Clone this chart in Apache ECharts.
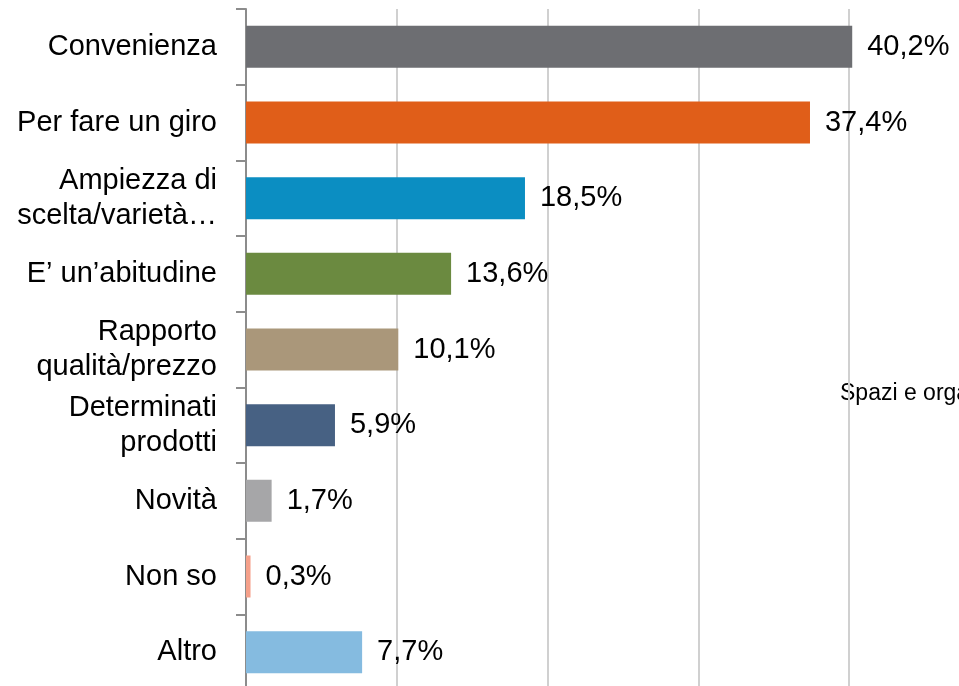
<!DOCTYPE html>
<html>
<head>
<meta charset="utf-8">
<script src="https://cdn.jsdelivr.net/npm/echarts@6/dist/echarts.min.js"></script>
<style>
  html, body { margin: 0; padding: 0; background: #fff; }
  #chart { width: 959px; height: 686px; }
</style>
</head>
<body>
<div id="chart"></div>
<script>
// categories (top to bottom) and their values in %
var categories = [
    'Convenienza',
    'Per fare un giro',
    'Ampiezza di\nscelta/varietà…',
    'E’ un’abitudine',
    'Rapporto\nqualità/prezzo',
    'Determinati\nprodotti',
    'Novità',
    'Non so',
    'Altro'
];
var values = [40.2, 37.4, 18.5, 13.6, 10.1, 5.9, 1.7, 0.3, 7.7];
var colors = ['#6d6e72', '#e05e19', '#0b8ec2', '#6b8a40', '#aa977a', '#476183', '#a6a6a8', '#f5a08a', '#85bbe0'];
var xTicks = [0, 10, 20, 30, 40, 50];

var font = '"Liberation Sans", Arial, sans-serif';

var myChart = echarts.init(document.getElementById('chart'));
var option = {
    animation: false,
    grid: {
        left: 246,
        top: 9,
        right: -41,
        bottom: -4,
        containLabel: false,
        outerBoundsMode: 'none'
    },
    xAxis: {
        type: 'value',
        min: xTicks[0],
        max: xTicks[xTicks.length - 1],
        interval: 10,
        axisLine: { show: false },
        axisTick: { show: false },
        axisLabel: { show: false },
        splitLine: { lineStyle: { color: '#d0d0d0', width: 2 } }
    },
    yAxis: {
        type: 'category',
        inverse: true,
        data: categories,
        axisLine: { show: true, lineStyle: { color: '#8c8c8c', width: 2 } },
        axisTick: { show: true, length: 10, lineStyle: { color: '#8c8c8c', width: 2 } },
        axisLabel: {
            margin: 29,
            color: '#000',
            fontSize: 29,
            lineHeight: 35,
            fontFamily: font,
            align: 'right'
        }
    },
    series: [{
        type: 'bar',
        barWidth: 42,
        data: values.map(function (v, i) {
            return { value: v, itemStyle: { color: colors[i] } };
        }),
        label: {
            show: true,
            position: 'right',
            distance: 15,
            color: '#000',
            fontSize: 29,
            fontFamily: font,
            formatter: function (p) {
                return p.value.toFixed(1).replace('.', ',') + '%';
            }
        }
    }],
    graphic: [{
        type: 'text',
        left: 840,
        top: 382,
        style: {
            text: 'Spazi e organizzazione',
            fontSize: 23,
            fontFamily: font,
            fill: '#000'
        }
    }]
};

myChart.setOption(option);
window.addEventListener("resize", function () {
    myChart.resize();
});
</script>
</body>
</html>
